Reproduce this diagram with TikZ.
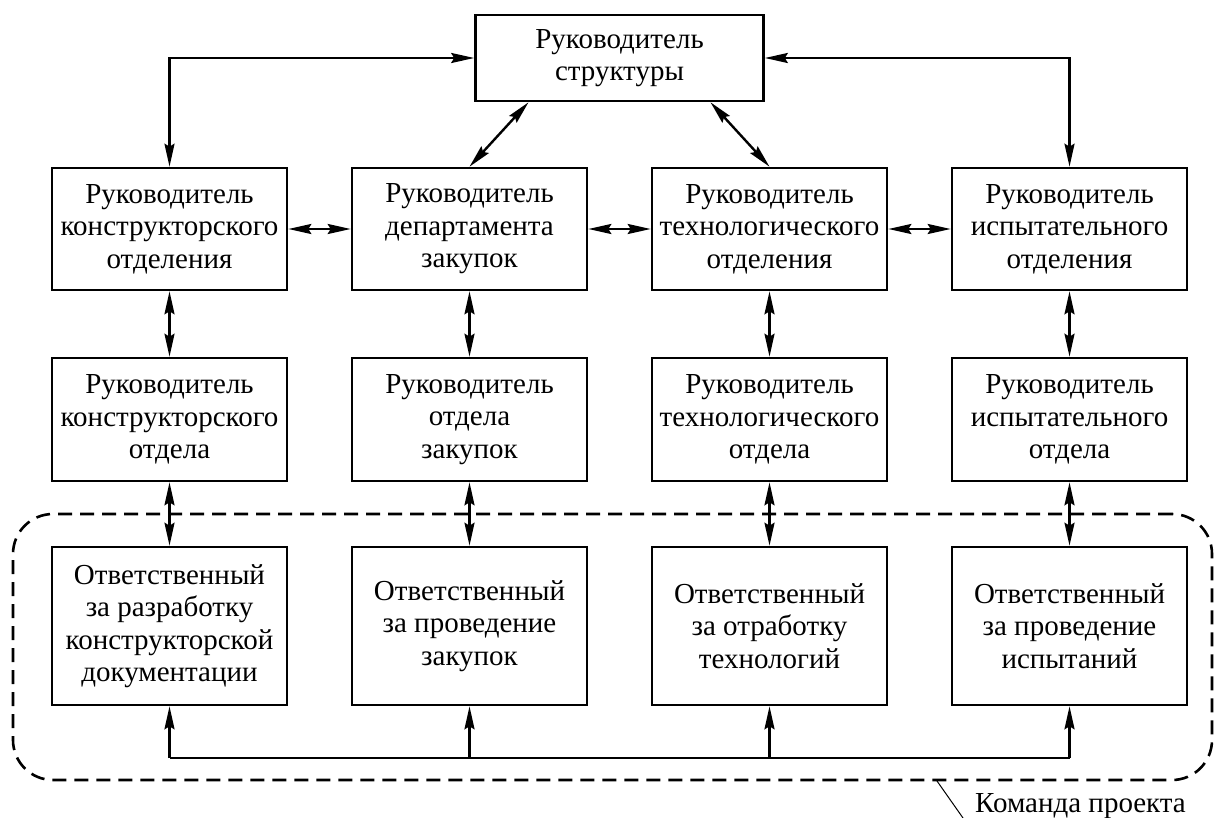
\documentclass[tikz,border=0pt]{standalone}
\usepackage{fontspec}
\setmainfont{Liberation Serif}
\usetikzlibrary{arrows.meta}
\begin{document}
\begin{tikzpicture}[x=1pt,y=-1pt,
  txt/.style={font=\fontsize{29}{32.5}\selectfont},
  box/.style={draw, txt, line width=2.6pt, minimum width=235pt, align=center, inner sep=0pt},
  tip/.tip={Stealth[length=23pt,width=10pt,inset=3pt]},
  both/.style={line width=2.4pt, tip-tip},
  up/.style={line width=2.4pt, -tip},
  team/.style={draw, line width=2.6pt, dash pattern=on 14pt off 8pt,
    rounded corners=40pt, minimum width=1199pt, minimum height=266pt, inner sep=0pt}
]
\useasboundingbox (0,0) rectangle (1214,818);

% project team frame
\node[team] (frame) at (612.5,647) {};

% head of the structure
\node[box, minimum width=288pt, minimum height=86pt] (head) at (619.5,58)
  {Руководитель\\структуры};

% division heads
\node[box, minimum height=122pt] (d1) at (169.5,229) {Руководитель\\конструкторского\\отделения};
\node[box, minimum height=122pt] (d2) at (469.5,229) {Руководитель\\департамента\\закупок};
\node[box, minimum height=122pt] (d3) at (769.5,229) {Руководитель\\технологического\\отделения};
\node[box, minimum height=122pt] (d4) at (1069.5,229) {Руководитель\\испытательного\\отделения};

% department heads
\node[box, minimum height=123pt] (s1) at (169.5,419.5) {Руководитель\\конструкторского\\отдела};
\node[box, minimum height=123pt] (s2) at (469.5,419.5) {Руководитель\\отдела\\закупок};
\node[box, minimum height=123pt] (s3) at (769.5,419.5) {Руководитель\\технологического\\отдела};
\node[box, minimum height=123pt] (s4) at (1069.5,419.5) {Руководитель\\испытательного\\отдела};

% responsible persons
\node[box, minimum height=158pt] (r1) at (169.5,626) {Ответственный\\за разработку\\конструкторской\\документации};
\node[box, minimum height=158pt] (r2) at (469.5,626) {Ответственный\\за проведение\\закупок};
\node[box, minimum height=158pt] (r3) at (769.5,626) {Ответственный\\за отработку\\технологий};
\node[box, minimum height=158pt] (r4) at (1069.5,626) {Ответственный\\за проведение\\испытаний};

% links from the head
\draw[both] (head.west) -| (d1.north);
\draw[both] (head.east) -| (d4.north);
\draw[both] ([xshift=-91pt]head.south) -- (d2.north);
\draw[both] ([xshift=91pt]head.south) -- (d3.north);

% links between divisions
\draw[both] (d1.east) -- (d2.west);
\draw[both] (d2.east) -- (d3.west);
\draw[both] (d3.east) -- (d4.west);

% vertical links
\foreach \i in {1,...,4} {
  \draw[both] (d\i.south) -- (s\i.north);
  \draw[both] (s\i.south) -- (r\i.north);
}

% common bus under the team
\foreach \i in {1,...,4} { \coordinate (b\i) at (r\i.south |- 0,758); }
\draw[line width=2.4pt] (b1) -- (b4);
\foreach \i in {1,...,4} { \draw[up] (b\i) -- (r\i.south); }

% team label
\coordinate (tagA) at (937,781);
\coordinate (tagB) at (963,818);
\draw[line width=1pt] (tagA) -- (tagB);
\node[anchor=base west, inner sep=0pt, txt] (tag) at (975,812) {Команда проекта};
\end{tikzpicture}
\end{document}
